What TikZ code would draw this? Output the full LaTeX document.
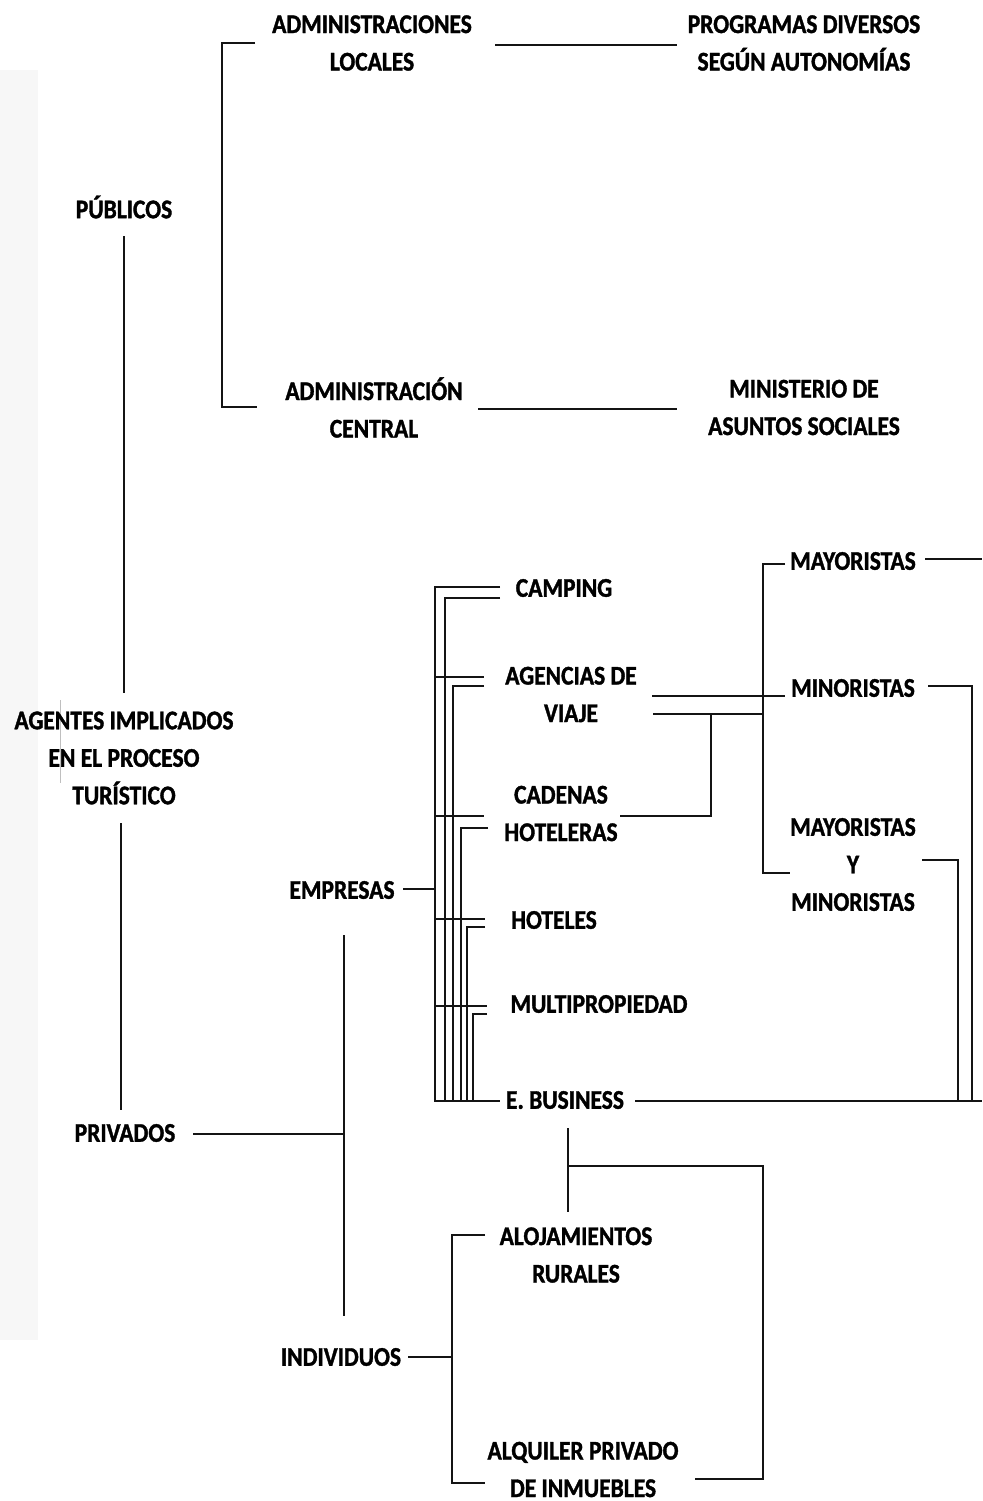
\documentclass[tikz,border=0pt]{standalone}
\usepackage{fontspec}
\setmainfont{Carlito}[FakeStretch=0.87, BoldFeatures={FakeBold=1.3}]
\tikzset{
  lbl/.style={font=\fontsize{27}{37.5}\selectfont\bfseries, align=center, inner sep=0pt, text=black},
  ln/.style={line width=2.1pt, draw=black!92}
}
\begin{document}
\begin{tikzpicture}[x=1pt,y=-1pt]
\fill[white] (0,0) rectangle (982,1501);
\useasboundingbox (0,0) rectangle (982,1501);
\fill[black!3] (0,70) rectangle (38,1340);
\draw[gray!50, line width=0.8pt] (60,700) -- (60,783);

% texts
\node[lbl] (adl) at (372,43) {ADMINISTRACIONES\\LOCALES};
\node[lbl] (prog) at (804,43) {PROGRAMAS DIVERSOS\\SEGÚN AUTONOMÍAS};
\node[lbl] (pub) at (124,207) {PÚBLICOS};
\node[lbl] (adc) at (374,407.5) {ADMINISTRACIÓN\\CENTRAL};
\node[lbl] (mas) at (804,407.5) {MINISTERIO DE\\ASUNTOS SOCIALES};
\node[lbl] (ag) at (124,758) {AGENTES IMPLICADOS\\EN EL PROCESO\\TURÍSTICO};
\node[lbl] (camp) at (564,588) {CAMPING};
\node[lbl] (agv) at (571,694.5) {AGENCIAS DE\\VIAJE};
\node[lbl] (cad) at (561,813.5) {CADENAS\\HOTELERAS};
\node[lbl] (emp) at (342,890) {EMPRESAS};
\node[lbl] (hot) at (554,920) {HOTELES};
\node[lbl] (mult) at (599,1004) {MULTIPROPIEDAD};
\node[lbl] (eb) at (565,1100) {E. BUSINESS};
\node[lbl] (may) at (853,561) {MAYORISTAS};
\node[lbl] (minr) at (853,688) {MINORISTAS};
\node[lbl] (mym) at (853,864.5) {MAYORISTAS\\Y\\MINORISTAS};
\node[lbl] (priv) at (125,1133) {PRIVADOS};
\node[lbl] (alo) at (576,1255) {ALOJAMIENTOS\\RURALES};
\node[lbl] (ind) at (341,1357) {INDIVIDUOS};
\node[lbl] (alq) at (583,1469.5) {ALQUILER PRIVADO\\DE INMUEBLES};

% junction coordinates
\coordinate (adlL) at (255,43);
\coordinate (brT) at (222,43);
\coordinate (brB) at (222,407);
\coordinate (adcL) at (257,407);
\coordinate (adlR) at (495,45);
\coordinate (progL) at (677,45);
\coordinate (adcR) at (478,409);
\coordinate (masL) at (677,409);
\coordinate (pubS) at (124,236);
\coordinate (agN) at (124,693);
\coordinate (agS) at (121,823);
\coordinate (privN) at (121,1110);
\coordinate (privR) at (193,1134);
\coordinate (pvJ) at (344,1134);
\coordinate (pvT) at (344,935);
\coordinate (pvB) at (344,1316);
\coordinate (empR) at (403,889);
\coordinate (empJ) at (435,889);
% bus
\coordinate (campA) at (500,587);
\coordinate (busT) at (435,587);
\coordinate (busB) at (435,1101);
\coordinate (ebA) at (500,1101);
\coordinate (campB) at (500,598);
\coordinate (v1T) at (445,598);
\coordinate (v1B) at (445,1101);
\coordinate (agvJ) at (435,677);
\coordinate (agvA) at (484,677);
\coordinate (agvB) at (484,686);
\coordinate (v2T) at (453,686);
\coordinate (v2B) at (453,1101);
\coordinate (cadJ) at (435,816);
\coordinate (cadA) at (484,816);
\coordinate (cadB) at (488,828);
\coordinate (v3T) at (461,828);
\coordinate (v3B) at (461,1101);
\coordinate (hotJ) at (435,919);
\coordinate (hotA) at (485,919);
\coordinate (hotB) at (485,927);
\coordinate (v4T) at (467,927);
\coordinate (v4B) at (467,1101);
\coordinate (mulJ) at (435,1006);
\coordinate (mulA) at (487,1006);
\coordinate (mulB) at (487,1014);
\coordinate (v5T) at (473,1014);
\coordinate (v5B) at (473,1101);
% right
\coordinate (agvR1) at (652,696);
\coordinate (minrL) at (785,696);
\coordinate (agvR2) at (653,714);
\coordinate (rbJ) at (763,714);
\coordinate (cvJ) at (711,714);
\coordinate (cvB) at (711,816);
\coordinate (cadR) at (620,816);
\coordinate (mayL) at (785,564);
\coordinate (rbT) at (763,564);
\coordinate (rbB) at (763,873);
\coordinate (mymL) at (790,873);
\coordinate (mayR) at (925,559);
\coordinate (edgeM) at (982,559);
\coordinate (minrR) at (928,686);
\coordinate (minrV) at (972,686);
\coordinate (minrB) at (972,1101);
\coordinate (mymR) at (922,860);
\coordinate (mymV) at (958,860);
\coordinate (mymB) at (958,1101);
\coordinate (ebR) at (635,1101);
\coordinate (edgeE) at (982,1101);
% bottom
\coordinate (ebS) at (568,1128);
\coordinate (aloN) at (568,1212);
\coordinate (ebJ) at (568,1166);
\coordinate (dvT) at (763,1166);
\coordinate (dvB) at (763,1479);
\coordinate (alqR) at (695,1479);
\coordinate (indR) at (408,1357);
\coordinate (indJ) at (452,1357);
\coordinate (aloL) at (485,1235);
\coordinate (ibT) at (452,1235);
\coordinate (ibB) at (452,1483);
\coordinate (alqL) at (485,1483);

% connectors
\draw[ln] (adlL) -- (brT) -- (brB) -- (adcL);
\draw[ln] (adlR) -- (progL);
\draw[ln] (adcR) -- (masL);
\draw[ln] (pubS) -- (agN);
\draw[ln] (agS) -- (privN);
\draw[ln] (privR) -- (pvJ);
\draw[ln] (pvT) -- (pvB);
\draw[ln] (empR) -- (empJ);

\draw[ln] (campA) -- (busT) -- (busB) -- (ebA);
\draw[ln] (campB) -- (v1T) -- (v1B);
\draw[ln] (agvJ) -- (agvA);
\draw[ln] (agvB) -- (v2T) -- (v2B);
\draw[ln] (cadJ) -- (cadA);
\draw[ln] (cadB) -- (v3T) -- (v3B);
\draw[ln] (hotJ) -- (hotA);
\draw[ln] (hotB) -- (v4T) -- (v4B);
\draw[ln] (mulJ) -- (mulA);
\draw[ln] (mulB) -- (v5T) -- (v5B);

\draw[ln] (agvR1) -- (minrL);
\draw[ln] (agvR2) -- (rbJ);
\draw[ln] (cvJ) -- (cvB) -- (cadR);
\draw[ln] (mayL) -- (rbT) -- (rbB) -- (mymL);
\draw[ln] (mayR) -- (edgeM);
\draw[ln] (minrR) -- (minrV) -- (minrB);
\draw[ln] (mymR) -- (mymV) -- (mymB);
\draw[ln] (ebR) -- (edgeE);

\draw[ln] (ebS) -- (aloN);
\draw[ln] (ebJ) -- (dvT) -- (dvB) -- (alqR);
\draw[ln] (indR) -- (indJ);
\draw[ln] (aloL) -- (ibT) -- (ibB) -- (alqL);
\end{tikzpicture}
\end{document}
